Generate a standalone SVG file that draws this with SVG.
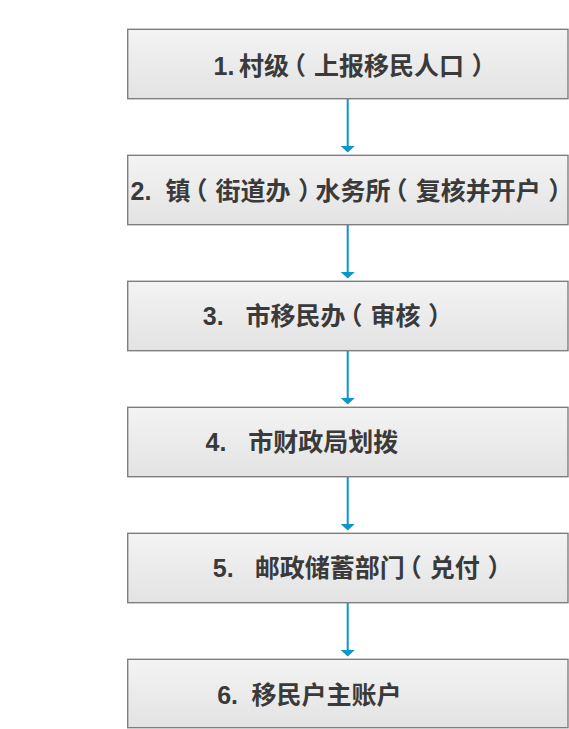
<svg xmlns="http://www.w3.org/2000/svg" width="569" height="729" viewBox="0 0 569 729">
<defs>
<linearGradient id="g" x1="0" y1="0" x2="0" y2="1">
<stop offset="0" stop-color="#f3f3f3"/>
<stop offset="1" stop-color="#e3e3e3"/>
</linearGradient>
</defs>
<style>
.box{fill:url(#g);stroke:#7f7f7f;stroke-width:1.4}
.t{font-family:"Liberation Sans","Noto Sans CJK SC",sans-serif;font-size:25px;font-weight:bold;fill:#3a3a3a}
.a{letter-spacing:-8px}
.b{letter-spacing:8px}
.c{letter-spacing:7.5px}
.d{letter-spacing:-7.5px}
.e{letter-spacing:-10px}
.ln{stroke:#0a97c9;stroke-width:2;fill:none}
.hd{fill:#0a97c9}
</style>
<rect width="569" height="729" fill="#ffffff"/>
<g id="connectors">
<line class="ln" x1="347.7" y1="99" x2="347.7" y2="147"/>
<polygon class="hd" points="340.7,146 354.7,146 347.7,152.5"/>
<line class="ln" x1="347.7" y1="225" x2="347.7" y2="273"/>
<polygon class="hd" points="340.7,272 354.7,272 347.7,278.5"/>
<line class="ln" x1="347.7" y1="351" x2="347.7" y2="399"/>
<polygon class="hd" points="340.7,398 354.7,398 347.7,404.5"/>
<line class="ln" x1="347.7" y1="477" x2="347.7" y2="525"/>
<polygon class="hd" points="340.7,524 354.7,524 347.7,530.5"/>
<line class="ln" x1="347.7" y1="603" x2="347.7" y2="651"/>
<polygon class="hd" points="340.7,650 354.7,650 347.7,656.5"/>
</g>
<g id="n1">
<rect class="box" x="127.7" y="29.3" width="440.3" height="69.4"/>
<text class="t" y="74.5"><tspan x="213.5">1.</tspan><tspan x="239">村</tspan><tspan class="a">级</tspan><tspan class="b">（</tspan><tspan>上报移民人</tspan><tspan class="c">口</tspan><tspan class="e">）</tspan></text>
</g>
<g id="n2">
<rect class="box" x="127.7" y="155.3" width="440.3" height="69.4"/>
<text class="t" y="199.5"><tspan x="130.5">2.</tspan><tspan x="165.5" class="a">镇</tspan><tspan class="b">（</tspan><tspan>街道</tspan><tspan class="c">办</tspan><tspan class="d">）</tspan><tspan>水务</tspan><tspan class="a">所</tspan><tspan class="b">（</tspan><tspan>复核并开</tspan><tspan class="c">户</tspan><tspan class="e">）</tspan></text>
</g>
<g id="n3">
<rect class="box" x="127.7" y="281.3" width="440.3" height="69.4"/>
<text class="t" y="325"><tspan x="202.8">3.</tspan><tspan x="245.5">市移民</tspan><tspan class="a">办</tspan><tspan class="b">（</tspan><tspan>审</tspan><tspan class="c">核</tspan><tspan class="e">）</tspan></text>
</g>
<g id="n4">
<rect class="box" x="127.7" y="407.3" width="440.3" height="69.4"/>
<text class="t" y="451"><tspan x="205.5">4.</tspan><tspan x="248.2">市财政局划拨</tspan></text>
</g>
<g id="n5">
<rect class="box" x="127.7" y="533.3" width="440.3" height="69.4"/>
<text class="t" y="576.5"><tspan x="212.8">5.</tspan><tspan x="254.8">邮政储蓄部</tspan><tspan class="a">门</tspan><tspan class="b">（</tspan><tspan>兑</tspan><tspan class="c">付</tspan><tspan class="e">）</tspan></text>
</g>
<g id="n6">
<rect class="box" x="127.7" y="659.3" width="440.3" height="68.4"/>
<text class="t" y="704"><tspan x="217.2">6.</tspan><tspan x="251.5">移民户主账户</tspan></text>
</g>
</svg>
